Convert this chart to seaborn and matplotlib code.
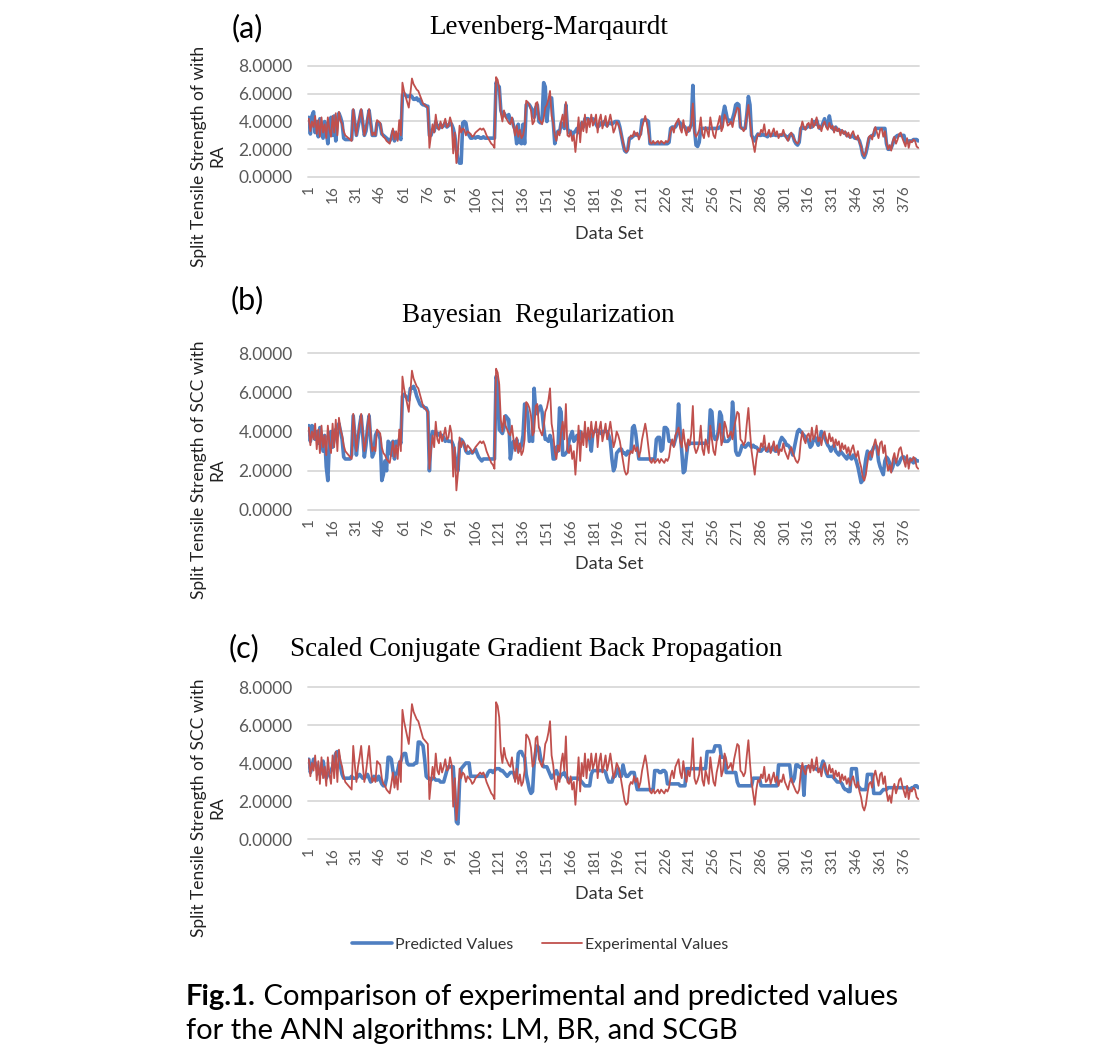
import numpy as np
import pandas as pd
import seaborn as sns
import matplotlib.pyplot as plt
from matplotlib.lines import Line2D

# ---------------- data ----------------
experimental = [
    4.2, 3.3, 4.0, 3.6, 4.4, 3.1, 4.1, 2.9, 4.3, 3.2, 3.8, 2.8, 4.3, 3.4, 2.9,
    4.4, 3.2, 4.6, 3.0, 4.7, 4.1, 3.8, 3.3, 3.0, 2.9, 2.8, 2.7, 2.6, 4.9, 3.9,
    3.0, 3.8, 4.3, 4.9, 3.9, 3.0, 3.5, 4.2, 4.9, 3.8, 3.0, 3.2, 3.0, 4.1, 4.0,
    3.9, 3.2, 2.9, 2.8, 2.6, 2.5, 2.4, 2.9, 3.5, 2.7, 3.3, 2.6, 4.1, 3.0, 6.8,
    6.2, 5.8, 5.4, 5.0, 6.0, 7.1, 6.7, 6.5, 6.3, 6.2, 5.9, 5.6, 5.3, 5.2, 5.1,
    5.0, 2.1, 3.0, 3.8, 3.2, 4.5, 3.6, 3.4, 4.0, 3.5, 3.8, 4.2, 3.6, 3.7, 4.3,
    3.9, 1.7, 3.2, 1.0, 1.9, 3.7, 3.2, 3.5, 3.4, 3.0, 3.3, 3.2, 3.1, 2.9, 3.0,
    3.2, 3.3, 3.4, 3.5, 3.4, 3.5, 3.3, 3.0, 2.8, 2.6, 2.4, 2.3, 2.1, 7.2, 7.0,
    6.4, 4.6, 4.0, 4.8, 4.3, 4.1, 3.9, 3.8, 4.3, 3.6, 3.0, 3.7, 2.9, 3.4, 2.8,
    3.0, 3.6, 5.5, 5.4, 5.2, 4.8, 3.8, 4.0, 5.3, 5.4, 4.2, 4.0, 3.8, 4.2, 5.0,
    5.2, 5.6, 6.2, 4.4, 3.9, 3.0, 2.6, 3.3, 3.0, 4.0, 4.5, 3.6, 5.4, 3.0, 2.9,
    3.3, 2.6, 3.0, 1.8, 3.0, 4.3, 2.5, 4.0, 3.3, 4.5, 3.2, 4.2, 3.6, 4.5, 3.7,
    4.0, 4.5, 3.2, 4.1, 4.5, 3.5, 3.9, 4.4, 3.6, 4.0, 4.5, 3.9, 3.2, 3.5, 4.0,
    3.8, 3.5, 3.0, 2.5, 2.0, 1.8, 1.9, 2.8, 3.0, 2.9, 3.3, 3.0, 3.2, 2.7, 3.0,
    3.6, 4.0, 4.4, 3.9, 3.2, 2.5, 2.4, 2.6, 2.4, 2.5, 2.6, 2.4, 2.6, 2.5, 2.4,
    2.6, 2.5, 2.7, 3.3, 3.6, 3.2, 3.8, 4.0, 4.2, 3.5, 3.2, 4.1, 3.4, 3.0, 3.6,
    3.3, 3.9, 5.3, 3.2, 2.9, 3.1, 3.4, 4.3, 3.1, 2.8, 3.6, 3.3, 2.9, 4.3, 3.6,
    3.0, 2.8, 3.5, 3.9, 4.4, 3.3, 3.6, 4.5, 4.2, 3.7, 3.8, 4.0, 3.6, 4.2, 4.6,
    5.0, 4.9, 3.6, 3.5, 3.3, 3.5, 4.4, 5.2, 4.0, 3.0, 2.4, 1.8, 2.6, 3.1, 3.0,
    3.4, 3.2, 3.8, 3.0, 3.1, 3.4, 2.9, 3.2, 3.5, 3.0, 3.3, 2.8, 3.1, 3.0, 3.4,
    3.0, 2.8, 2.6, 3.0, 3.2, 2.9, 2.7, 2.5, 2.4, 2.6, 3.5, 4.0, 3.6, 3.4, 3.8,
    3.9, 3.5, 4.2, 3.6, 3.8, 4.3, 3.5, 3.7, 3.3, 3.8, 4.0, 3.6, 3.4, 3.9, 3.5,
    3.7, 3.2, 3.6, 3.3, 3.5, 3.0, 3.4, 3.1, 3.3, 2.9, 3.2, 2.8, 3.1, 3.3, 2.9,
    2.7, 3.0, 2.5, 2.2, 1.7, 1.5, 1.8, 2.4, 2.9, 3.0, 2.7, 3.3, 3.6, 3.2, 2.8,
    3.4, 3.5, 2.9, 3.3, 2.5, 2.0, 2.3, 1.9, 2.6, 2.9, 2.4, 2.7, 3.1, 3.2, 2.8,
    2.5, 2.2, 2.8, 2.1, 2.6, 2.5, 2.7, 2.6, 2.2, 2.1,
]

predicted_lm = [
    4.3, 3.1, 4.4, 4.7, 3.2, 4.0, 2.9, 4.2, 3.6, 2.8, 4.0, 3.3, 2.4, 3.9, 4.3,
    3.0, 4.4, 2.6, 4.0, 4.6, 4.3, 3.9, 2.8, 2.7, 2.7, 2.7, 2.7, 2.7, 4.8, 3.9,
    3.0, 3.6, 4.2, 4.8, 3.9, 3.0, 3.3, 4.1, 4.8, 3.9, 3.0, 3.0, 3.0, 3.9, 3.9,
    3.8, 3.1, 3.0, 2.9, 2.8, 2.7, 2.6, 2.8, 3.3, 2.6, 3.0, 2.8, 3.0, 2.7, 5.9,
    6.0, 5.9, 5.8, 5.8, 5.9, 5.8, 5.6, 5.6, 5.7, 5.5, 5.6, 5.3, 5.2, 5.2, 5.1,
    5.1, 3.0, 3.0, 3.4, 3.3, 4.0, 3.6, 3.5, 3.8, 3.6, 3.7, 3.9, 3.6, 3.7, 3.9,
    3.8, 3.5, 3.0, 2.0, 1.2, 1.0, 1.0, 3.9, 4.0, 3.9, 3.2, 3.0, 2.8, 2.8, 2.9,
    2.8, 2.9, 2.9, 2.8, 2.8, 2.9, 2.8, 2.8, 2.8, 2.8, 2.8, 2.8, 2.8, 6.8, 6.6,
    6.5, 4.8, 4.5, 4.6, 4.4, 4.3, 4.5, 4.0, 4.2, 3.7, 3.4, 2.4, 3.8, 2.5, 2.4,
    3.8, 2.4, 5.2, 5.3, 5.2, 5.0, 4.8, 4.3, 5.0, 5.2, 4.0, 3.9, 4.1, 6.8, 6.5,
    4.0, 5.2, 5.6, 5.7, 4.0, 2.4, 3.0, 3.3, 3.2, 3.9, 3.8, 3.5, 5.2, 3.5, 3.2,
    3.3, 3.0, 3.2, 3.3, 3.5, 3.2, 3.4, 3.9, 3.6, 4.2, 4.2, 4.2, 4.1, 4.1, 4.2,
    4.1, 3.8, 3.6, 3.7, 3.9, 3.8, 4.0, 3.8, 3.7, 3.9, 3.9, 3.8, 3.9, 4.0, 4.0,
    4.0, 3.6, 3.0, 2.4, 1.9, 1.8, 2.0, 2.8, 2.8, 2.9, 3.0, 3.1, 3.0, 3.0, 3.1,
    4.1, 4.1, 4.1, 4.1, 4.0, 2.4, 2.4, 2.4, 2.4, 2.4, 2.4, 2.4, 2.4, 2.4, 2.4,
    2.4, 2.4, 2.5, 3.5, 3.6, 3.6, 3.6, 3.8, 4.0, 3.9, 3.6, 3.7, 3.6, 3.4, 3.3,
    3.5, 3.8, 6.6, 3.5, 2.3, 2.2, 2.5, 3.5, 3.5, 3.5, 3.5, 3.5, 3.5, 3.5, 3.5,
    3.5, 3.5, 3.5, 3.5, 3.6, 3.6, 4.5, 5.1, 4.6, 4.0, 4.1, 3.9, 4.2, 4.6, 5.2,
    5.3, 5.2, 3.6, 3.5, 3.5, 3.5, 4.5, 5.8, 5.2, 3.0, 2.8, 2.6, 2.9, 3.1, 3.0,
    3.0, 3.1, 3.0, 3.0, 2.9, 3.1, 3.0, 3.0, 3.1, 3.0, 3.0, 3.0, 3.0, 3.0, 3.1,
    3.0, 2.9, 2.7, 3.0, 3.1, 3.0, 2.6, 2.4, 2.3, 2.5, 3.5, 3.6, 3.5, 3.5, 3.6,
    3.7, 3.6, 3.6, 4.0, 3.8, 4.1, 3.7, 3.5, 3.6, 3.9, 4.2, 3.8, 3.6, 4.4, 3.8,
    3.5, 3.4, 3.6, 3.4, 3.4, 3.3, 3.3, 3.2, 3.2, 3.0, 3.0, 2.9, 2.9, 3.0, 2.8,
    2.8, 2.8, 2.6, 2.2, 1.6, 1.4, 1.7, 2.2, 2.8, 2.9, 3.0, 3.0, 3.5, 3.5, 3.5,
    3.5, 3.5, 3.5, 3.5, 2.4, 2.0, 2.0, 2.1, 2.4, 2.8, 2.9, 3.0, 3.0, 3.0, 3.0,
    3.0, 2.5, 2.5, 2.6, 2.6, 2.6, 2.7, 2.7, 2.7, 2.6,
]

predicted_br = [
    4.3, 3.5, 4.3, 4.2, 3.6, 4.0, 3.4, 4.2, 3.6, 3.0, 3.8, 2.2, 1.5, 3.5, 4.0,
    3.2, 3.6, 4.1, 4.2, 4.4, 4.0, 3.6, 2.7, 2.6, 2.6, 2.6, 2.6, 2.8, 4.8, 3.8,
    2.8, 3.6, 4.3, 4.8, 3.8, 2.7, 3.3, 4.2, 4.8, 3.6, 2.7, 2.9, 3.8, 4.0, 3.9,
    3.6, 1.5, 1.8, 2.5, 2.0, 3.5, 3.4, 2.8, 3.5, 2.6, 3.5, 3.3, 3.6, 3.4, 5.8,
    5.9, 5.8, 5.7, 5.6, 6.2, 6.2, 6.3, 6.1, 5.8, 5.6, 5.4, 5.3, 5.3, 5.2, 5.2,
    5.0, 2.0, 3.6, 4.0, 3.9, 4.0, 3.8, 3.9, 3.8, 3.8, 3.7, 3.5, 3.6, 3.5, 3.5,
    3.5, 3.3, 2.8, 2.2, 2.0, 3.4, 3.6, 3.5, 3.3, 3.0, 2.9, 2.9, 3.0, 2.9, 3.0,
    3.1, 2.9, 2.7, 2.6, 2.5, 2.6, 2.6, 2.6, 2.6, 2.6, 2.6, 2.6, 2.6, 6.8, 6.5,
    4.1, 4.0, 3.9, 4.2, 4.8, 4.7, 4.6, 2.6, 3.1, 3.5, 3.2, 3.6, 3.0, 3.1, 3.3,
    3.8, 5.4, 5.3, 4.8, 3.5, 3.6, 3.5, 6.2, 5.0, 4.9, 5.2, 5.3, 5.0, 4.2, 3.6,
    3.6, 3.5, 3.8, 3.5, 2.6, 2.6, 3.2, 3.0, 5.2, 5.0, 2.8, 2.8, 2.9, 3.0, 3.5,
    3.8, 4.0, 3.5, 3.6, 3.8, 3.7, 4.0, 3.6, 3.8, 3.9, 3.7, 3.8, 3.6, 3.0, 3.9,
    4.0, 4.1, 4.0, 4.0, 3.9, 4.0, 4.0, 4.0, 4.0, 3.8, 3.5, 2.6, 2.0, 2.2, 2.9,
    3.0, 3.1, 3.1, 2.9, 2.9, 2.8, 3.0, 2.9, 3.0, 4.2, 4.3, 3.9, 3.2, 2.6, 2.6,
    2.6, 2.6, 2.6, 2.6, 2.6, 2.6, 2.6, 2.6, 2.6, 3.6, 3.7, 3.7, 3.0, 3.1, 4.2,
    4.2, 4.1, 3.5, 3.5, 3.4, 3.3, 3.6, 3.9, 5.4, 4.0, 3.0, 1.9, 2.0, 2.8, 3.4,
    3.4, 3.4, 3.4, 3.4, 3.4, 3.4, 3.4, 3.4, 3.4, 3.4, 3.4, 3.4, 3.6, 5.1, 5.0,
    3.8, 3.6, 3.6, 4.0, 5.0, 4.8, 3.8, 3.5, 3.5, 3.5, 3.6, 3.8, 5.5, 4.6, 3.0,
    2.8, 2.8, 3.0, 3.3, 3.3, 3.2, 3.3, 3.4, 3.3, 3.2, 3.3, 3.2, 3.2, 3.1, 3.0,
    3.0, 3.1, 3.2, 3.1, 3.0, 3.1, 3.0, 3.2, 3.1, 3.0, 3.0, 3.2, 3.5, 3.7, 3.6,
    3.5, 3.3, 3.3, 3.2, 3.0, 2.8, 3.2, 3.6, 4.0, 4.1, 4.0, 3.9, 3.8, 3.7, 3.6,
    3.5, 3.2, 3.3, 3.6, 3.7, 3.5, 3.3, 3.6, 4.0, 3.8, 3.7, 3.5, 3.3, 3.2, 3.0,
    3.2, 3.3, 3.0, 2.9, 2.8, 3.0, 2.9, 2.8, 2.7, 2.6, 2.8, 2.7, 2.6, 2.8, 2.7,
    2.5, 2.2, 1.8, 1.4, 1.5, 2.0, 2.6, 3.0, 2.8, 2.6, 3.0, 3.2, 3.3, 3.2, 2.5,
    2.2, 2.0, 1.8, 2.5, 2.7, 2.6, 2.4, 2.0, 2.2, 2.6, 2.5, 2.3, 2.4, 2.6, 2.7,
    2.7, 2.6, 2.5, 2.4, 2.6, 2.5, 2.4, 2.6, 2.5, 2.5,
]

predicted_scgb = [
    4.2, 3.5, 3.8, 4.2, 4.0, 3.8, 3.6, 3.4, 3.9, 4.1, 3.6, 3.2, 3.4, 3.5, 3.6,
    3.8, 4.2, 4.5, 4.6, 4.3, 3.8, 3.4, 3.2, 3.2, 3.2, 3.2, 3.2, 3.3, 3.2, 3.2,
    3.2, 3.3, 3.4, 3.3, 3.2, 3.2, 3.3, 3.4, 3.2, 3.0, 3.1, 3.3, 3.2, 3.1, 3.3,
    3.1, 2.9, 2.8, 2.8, 3.2, 4.3, 4.3, 4.2, 3.6, 3.2, 3.4, 3.6, 4.0, 4.1, 4.4,
    4.5, 4.5, 4.0, 3.9, 3.9, 3.9, 3.9, 4.0, 4.0, 5.1, 5.1, 5.0, 4.9, 4.2, 3.3,
    3.2, 3.2, 3.1, 3.2, 3.2, 3.1, 3.1, 3.1, 3.0, 3.0, 3.0, 3.3, 3.6, 3.8, 3.8,
    3.8, 3.8, 2.5, 0.9, 0.8, 3.0, 3.7, 3.8, 3.9, 4.0, 4.0, 4.0, 3.3, 3.3, 3.3,
    3.3, 3.3, 3.3, 3.3, 3.3, 3.3, 3.3, 3.3, 3.5, 3.6, 3.6, 3.5, 3.6, 3.7, 3.7,
    3.7, 3.6, 3.6, 3.5, 3.4, 3.3, 3.4, 3.5, 3.5, 3.5, 3.2, 3.4, 4.5, 4.6, 4.6,
    4.4, 4.3, 3.4, 3.0, 2.6, 2.4, 2.5, 4.0, 4.6, 4.9, 4.8, 4.3, 4.0, 3.8, 3.8,
    3.8, 3.6, 3.4, 3.2, 3.3, 3.5, 3.6, 3.4, 3.2, 3.4, 3.4, 3.5, 3.3, 3.2, 3.0,
    3.1, 3.2, 3.2, 3.2, 3.2, 3.2, 3.1, 3.0, 2.9, 2.8, 2.8, 2.8, 2.8, 3.4, 3.6,
    3.6, 3.6, 3.6, 3.6, 3.6, 3.6, 3.6, 3.5, 3.2, 3.0, 3.0, 3.0, 3.3, 3.3, 3.6,
    3.7, 3.3, 3.3, 3.9, 3.5, 3.3, 3.3, 3.4, 3.5, 3.5, 3.5, 3.0, 2.6, 2.6, 2.6,
    2.6, 2.6, 2.6, 2.6, 2.6, 2.6, 2.6, 2.6, 3.6, 3.6, 3.6, 3.5, 3.5, 3.6, 3.6,
    3.5, 2.9, 2.9, 2.9, 2.9, 2.9, 2.9, 2.9, 2.9, 2.8, 2.8, 2.8, 2.8, 3.7, 3.7,
    3.7, 3.7, 3.7, 3.7, 3.7, 3.7, 3.7, 3.7, 3.7, 3.7, 3.7, 4.6, 4.6, 4.6, 4.6,
    4.6, 4.9, 4.9, 4.9, 4.9, 4.3, 4.3, 4.3, 3.5, 3.5, 3.5, 3.5, 3.5, 3.5, 3.5,
    3.0, 2.8, 2.8, 2.8, 2.8, 2.8, 2.8, 2.8, 2.8, 2.8, 3.2, 3.2, 3.2, 3.2, 3.2,
    2.8, 2.8, 2.8, 2.8, 2.8, 2.8, 2.8, 2.8, 2.8, 2.8, 2.8, 3.9, 3.9, 3.9, 3.9,
    3.9, 3.9, 3.9, 3.9, 3.2, 3.0, 3.2, 3.9, 3.9, 3.8, 3.8, 3.6, 2.3, 3.8, 3.8,
    3.8, 3.8, 3.8, 3.8, 3.7, 3.7, 3.6, 3.6, 3.8, 4.1, 3.9, 3.5, 3.3, 3.3, 3.3,
    3.3, 3.2, 3.1, 3.0, 3.0, 3.0, 2.9, 2.7, 2.6, 2.6, 2.5, 2.5, 3.7, 3.7, 3.7,
    3.7, 2.8, 2.7, 2.6, 2.6, 2.6, 2.6, 3.4, 3.4, 3.4, 3.4, 2.4, 2.4, 2.4, 2.4,
    2.4, 2.5, 2.6, 2.6, 2.6, 2.7, 2.7, 2.7, 2.7, 2.7, 2.7, 2.7, 2.7, 2.7, 2.7,
    2.7, 2.7, 2.7, 2.6, 2.6, 2.7, 2.7, 2.8, 2.8, 2.7,
]

panel_letters = ["(a)", "(b)", "(c)"]
panel_titles = ["Levenberg-Marqaurdt", "Bayesian  Regularization",
                "Scaled Conjugate Gradient Back Propagation"]
y_titles = ["Split Tensile Strength of with\nRA",
            "Split Tensile Strength of SCC with\nRA",
            "Split Tensile Strength of SCC with\nRA"]
x_title = "Data Set"
y_ticks = [0, 2, 4, 6, 8]
x_tick_step = 15
legend_labels = ["Predicted Values", "Experimental Values"]
caption_bold = "Fig.1."
caption_rest = " Comparison of experimental and predicted values"
caption_line2 = "for the ANN algorithms: LM, BR, and SCGB"

# ---------------- style ----------------
sns.set_theme(style="white")
plt.rcParams['font.family'] = ['Lato', 'DejaVu Sans']

BLUE = "#4F7FC1"
RED = "#C0504D"
GRID = "#D9D9D9"
TICKC = "#595959"

W, H = 1100, 1058
fig = plt.figure(figsize=(W / 100, H / 100), dpi=100)
fig.patch.set_facecolor("white")


def ax_at(x0, y0, x1, y1):
    return fig.add_axes([x0 / W, 1 - y1 / H, (x1 - x0) / W, (y1 - y0) / H])


def fx(x):
    return x / W


def fy(y):
    return 1 - y / H


# plot-area boxes (pixels): left, top(=8), right, bottom(=0)
boxes = [(308, 66, 919, 177), (308, 353, 919, 510), (308, 687, 919, 839)]
predictions = [predicted_lm, predicted_br, predicted_scgb]

letter_pos = [(247, 28), (247, 300), (244, 648)]
title_pos = [(549, 28), (538, 316), (536, 650)]
ytitle_pos = [(208, 156), (208, 470), (208, 808)]
xtitle_pos = [(609, 234), (609, 564), (609, 894)]

for i, (box, pred) in enumerate(zip(boxes, predictions)):
    ax = ax_at(*box)
    n = max(len(experimental), len(pred))
    df_p = pd.DataFrame({"idx": np.arange(1, len(pred) + 1), "val": pred})
    df_e = pd.DataFrame({"idx": np.arange(1, len(experimental) + 1), "val": experimental})
    sns.lineplot(data=df_p, x="idx", y="val", ax=ax, color=BLUE, linewidth=2.6,
                 solid_joinstyle="round", zorder=3)
    sns.lineplot(data=df_e, x="idx", y="val", ax=ax, color=RED, linewidth=1.3,
                 solid_joinstyle="round", zorder=4)
    ax.set_xlim(0.5, n + 0.5)
    ax.set_ylim(0, 8)
    ax.set_yticks(y_ticks)
    ax.set_yticklabels([f"{v:.4f}" for v in y_ticks])
    xt = list(range(1, n + 1, x_tick_step))
    ax.set_xticks(xt)
    ax.set_xticklabels([str(t) for t in xt], rotation=90)
    ax.tick_params(axis="y", length=0, pad=11, labelsize=12.5, labelcolor=TICKC)
    ax.tick_params(axis="x", length=0, pad=6, labelsize=11, labelcolor=TICKC)
    ax.grid(axis="y", color=GRID, linewidth=1.3, zorder=0)
    ax.grid(axis="x", visible=False)
    for s in ax.spines.values():
        s.set_visible(False)
    ax.set_axisbelow(True)
    ax.set_xlabel("")
    ax.set_ylabel("")
    ax.set_facecolor("none")
    for gl in ax.get_ygridlines():
        gl.set_clip_on(False)

    fig.text(fx(letter_pos[i][0]), fy(letter_pos[i][1]), panel_letters[i],
             fontsize=22, ha="center", va="center", color="black")
    fig.text(fx(title_pos[i][0]), fy(title_pos[i][1]), panel_titles[i],
             fontsize=19.5, ha="center", va="center", color="black",
             family=["Liberation Serif", "DejaVu Serif"])
    fig.text(fx(ytitle_pos[i][0]), fy(ytitle_pos[i][1]), y_titles[i],
             fontsize=12.5, ha="center", va="center", rotation=90,
             multialignment="center", color="#222222", linespacing=1.15)
    fig.text(fx(xtitle_pos[i][0]), fy(xtitle_pos[i][1]), x_title,
             fontsize=13, ha="center", va="center", color="#333333")

# legend
handles = [Line2D([0], [0], color=BLUE, lw=2.6),
           Line2D([0], [0], color=RED, lw=1.3)]
fig.legend(handles, legend_labels, loc="center", ncol=2, frameon=False,
           bbox_to_anchor=(fx(540), fy(945)), fontsize=11.5, handlelength=2.5,
           handletextpad=0.2, columnspacing=1.8,
           labelcolor="#333333")

# caption
renderer = fig.canvas.get_renderer()
t_bold = fig.text(fx(186), fy(997), caption_bold, fontsize=21, fontweight="bold",
                  ha="left", va="center", color="black")
bb = t_bold.get_window_extent(renderer=renderer)
fig.text(bb.x1 / W, fy(997), caption_rest, fontsize=21, ha="left", va="center",
         color="black")
fig.text(fx(186), fy(1031), caption_line2, fontsize=21, ha="left", va="center",
         color="black")

fig.savefig("out.png", dpi=100, facecolor="white")
